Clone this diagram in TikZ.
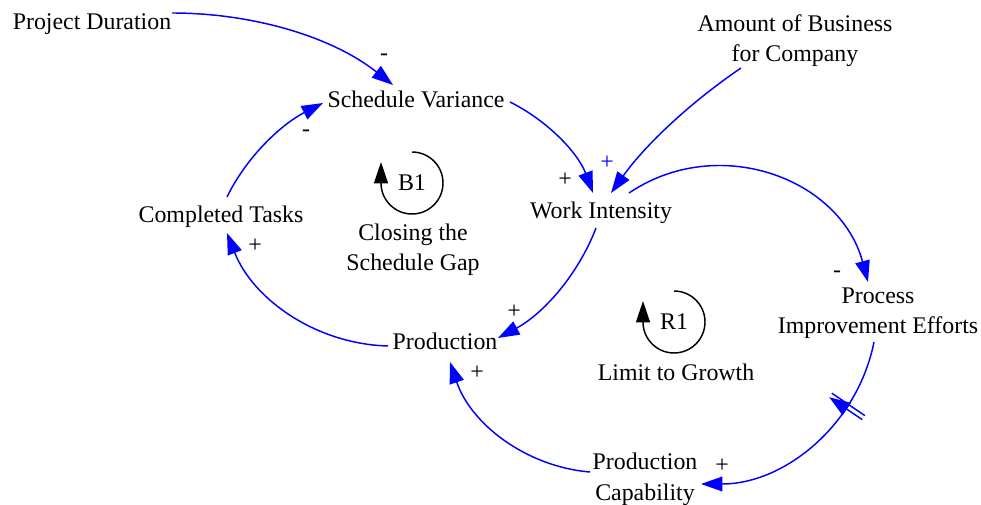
\documentclass[tikz,border=0pt]{standalone}
\usepackage{fontspec}
\setmainfont{Liberation Serif}
\usetikzlibrary{arrows.meta,decorations.markings}
\definecolor{linkblue}{RGB}{0,0,255}
\newcommand\cldfont{\fontsize{17.9pt}{23pt}\selectfont}
\begin{document}
\begin{tikzpicture}[x=0.75pt,y=-0.75pt,
  var/.style={font=\cldfont, inner sep=0pt, align=center, anchor=base},
  pol/.style={font=\cldfont, inner sep=0pt, anchor=base},
  link/.style={draw=linkblue, line width=1.1pt, -{Triangle[length=16pt,width=11pt]}},
  loopline/.style={draw=black, line width=1.1pt, -{Triangle[length=16pt,width=10.5pt]}},
  delay/.style={postaction={decorate, decoration={markings,
      mark=at position 0.29 with {\draw[linkblue, line width=1.1pt]
        (-2.4,-20) -- (-2.4,20) (2.4,-20) -- (2.4,20);}}}}]
\useasboundingbox (0,0) rectangle (981,505);

% variables (a multi-line node sits on the baseline of its last line)
\node[var] (pd)  at (92,30)   {Project Duration};
\node[var] (sv)  at (416,108) {Schedule Variance};
\node[var] (amb) at (795,62)  {Amount of Business\\for Company};
\node[var] (ct)  at (221,223) {Completed Tasks};
\node[var] (wi)  at (601,219) {Work Intensity};
\node[var] (pie) at (878,334) {Process\\Improvement Efforts};
\node[var] (pr)  at (445,350) {Production};
\node[var] (pc)  at (645,500) {Production\\Capability};

% loop identifiers
\node[var] (b1)  at (412,191) {B1};
\node[var] (b1n) at (413,271) {Closing the\\Schedule Gap};
\node[var] (r1)  at (674,330) {R1};
\node[var] (r1n) at (676,381) {Limit to Growth};

\draw[loopline] ([shift={(0,-39)}]b1.base) arc[start angle=-90, end angle=180, radius=31] -- ++(0,-21);
\draw[loopline] ([shift={(0,-39)}]r1.base) arc[start angle=-90, end angle=180, radius=31] -- ++(0,-21);

% causal links
\draw[link] ([shift={(80,-17)}]pd.base) .. controls +(79,0) and +(-62,-49) .. ([shift={(-23,-23)}]sv.base);
\draw[link] ([shift={(6,-26)}]ct.base) .. controls +(20,-41) and +(-41,21) .. ([shift={(-93,-5)}]sv.base);
\draw[link] ([shift={(94,-6)}]sv.base) .. controls +(38,19) and +(-15,-40) .. ([shift={(-8,-26)}]wi.base);
\draw[link] ([shift={(-54,6)}]amb.base) .. controls +(-50,34) and +(35,-49) .. ([shift={(10,-26)}]wi.base);
\draw[link] ([shift={(28,-26)}]wi.base) .. controls +(89,-60) and +(-28,-104) .. ([shift={(-10,-52)}]pie.base);
\draw[link] ([shift={(-5,9)}]wi.base) .. controls +(-18,47) and +(45,-24) .. ([shift={(53,-12)}]pr.base);
\draw[link,delay] ([shift={(-4,8)}]pie.base) .. controls +(-16.5,82.5) and +(84,0) .. ([shift={(56,-16)}]pc.base);
\draw[link] ([shift={(-55,-28)}]pc.base) .. controls +(-64.6,-5.4) and +(20.6,61.4) .. ([shift={(5,12)}]pr.base);
\draw[link] ([shift={(-57,-4)}]pr.base) .. controls +(-71.5,-1.9) and +(26.1,66.6) .. ([shift={(6,10)}]ct.base);

% link polarities
\node[pol] (p1) at (384,60.5)  {-};
\node[pol] (p2) at (306,136.5) {-};
\node[pol] (p3) at (565,186.5) {+};
\node[pol, text=linkblue] (p4) at (607,169.5) {+};
\node[pol] (p5) at (837,277.5) {-};
\node[pol] (p6) at (514,318.5) {+};
\node[pol] (p7) at (722,472.5) {+};
\node[pol] (p8) at (477,379.5) {+};
\node[pol] (p9) at (255,252.5) {+};
\end{tikzpicture}
\end{document}
